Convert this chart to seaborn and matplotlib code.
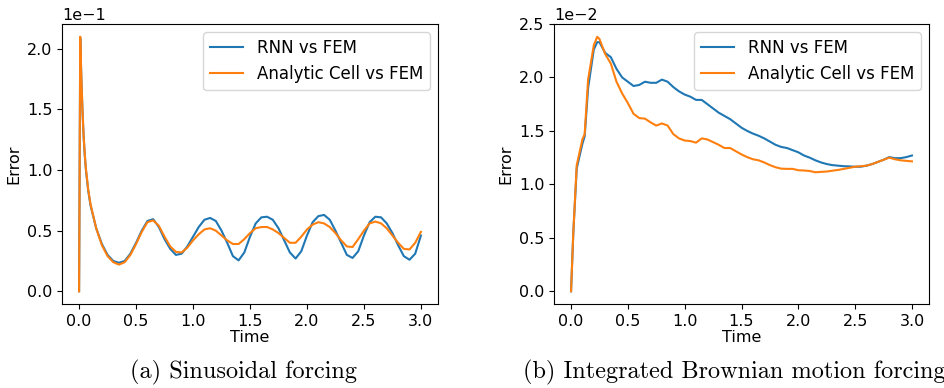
import numpy as np
import pandas as pd
import matplotlib
matplotlib.use("Agg")
import matplotlib.pyplot as plt
import seaborn as sns

# ---------------- data ----------------
# (a) Sinusoidal forcing  (values in units of 1e-1)
t_a = [0.0, 0.01, 0.02, 0.03, 0.04, 0.05, 0.06, 0.08, 0.10, 0.15, 0.20, 0.25, 0.30, 0.35,
       0.40, 0.45, 0.50, 0.55, 0.60, 0.65, 0.70, 0.75, 0.80, 0.85, 0.90, 0.95,
       1.00, 1.05, 1.10, 1.15, 1.20, 1.25, 1.30, 1.35, 1.40, 1.45,
       1.50, 1.55, 1.60, 1.65, 1.70, 1.75, 1.80, 1.85, 1.90, 1.95,
       2.00, 2.05, 2.10, 2.15, 2.20, 2.25, 2.30, 2.35, 2.40, 2.45,
       2.50, 2.55, 2.60, 2.65, 2.70, 2.75, 2.80, 2.85, 2.90, 2.95, 3.00]
rnn_a = [0.0, 2.09, 1.75, 1.48, 1.27, 1.12, 1.00, 0.83, 0.71, 0.52, 0.39, 0.30, 0.25, 0.235,
         0.25, 0.31, 0.40, 0.50, 0.58, 0.595, 0.53, 0.43, 0.35, 0.30, 0.31, 0.37,
         0.45, 0.53, 0.59, 0.605, 0.58, 0.50, 0.40, 0.29, 0.255, 0.32,
         0.45, 0.56, 0.61, 0.615, 0.59, 0.52, 0.42, 0.32, 0.27, 0.33,
         0.46, 0.57, 0.62, 0.63, 0.59, 0.50, 0.40, 0.30, 0.275, 0.33,
         0.46, 0.57, 0.615, 0.61, 0.56, 0.48, 0.38, 0.29, 0.26, 0.31, 0.46]
ana_a = [0.0, 2.10, 1.76, 1.49, 1.28, 1.13, 1.01, 0.84, 0.72, 0.52, 0.38, 0.29, 0.24, 0.22,
         0.24, 0.30, 0.39, 0.49, 0.57, 0.585, 0.54, 0.45, 0.37, 0.325, 0.32, 0.36,
         0.42, 0.47, 0.51, 0.52, 0.50, 0.46, 0.42, 0.39, 0.39, 0.43,
         0.48, 0.52, 0.53, 0.53, 0.51, 0.48, 0.44, 0.40, 0.40, 0.45,
         0.51, 0.55, 0.57, 0.56, 0.53, 0.48, 0.42, 0.37, 0.365, 0.43,
         0.50, 0.56, 0.575, 0.56, 0.52, 0.46, 0.40, 0.35, 0.345, 0.40, 0.49]

# (b) Integrated Brownian motion forcing  (values in units of 1e-2)
t_b = [0.0, 0.02, 0.05, 0.10, 0.12, 0.15, 0.20, 0.23, 0.25, 0.30, 0.35,
       0.40, 0.45, 0.50, 0.55, 0.60, 0.65, 0.70, 0.75, 0.80, 0.85, 0.90, 0.95,
       1.00, 1.05, 1.10, 1.15, 1.20, 1.25, 1.30, 1.35, 1.40, 1.45,
       1.50, 1.55, 1.60, 1.65, 1.70, 1.75, 1.80, 1.85, 1.90, 1.95,
       2.00, 2.05, 2.10, 2.15, 2.20, 2.25, 2.30, 2.35, 2.40, 2.45,
       2.50, 2.55, 2.60, 2.65, 2.70, 2.75, 2.80, 2.85, 2.90, 2.95, 3.00]
rnn_b = [0.0, 0.55, 1.15, 1.38, 1.45, 1.90, 2.26, 2.33, 2.33, 2.23, 2.19,
         2.08, 2.00, 1.96, 1.92, 1.93, 1.96, 1.95, 1.95, 1.98, 1.96, 1.91, 1.87,
         1.84, 1.82, 1.79, 1.79, 1.75, 1.71, 1.67, 1.64, 1.61, 1.57,
         1.53, 1.50, 1.475, 1.455, 1.43, 1.40, 1.37, 1.35, 1.34, 1.32,
         1.30, 1.27, 1.25, 1.225, 1.205, 1.19, 1.18, 1.175, 1.17, 1.168,
         1.165, 1.165, 1.175, 1.19, 1.21, 1.23, 1.255, 1.245, 1.245, 1.255, 1.27]
ana_b = [0.0, 0.55, 1.18, 1.42, 1.47, 1.98, 2.30, 2.38, 2.36, 2.22, 2.13,
         1.96, 1.85, 1.76, 1.66, 1.62, 1.615, 1.58, 1.55, 1.57, 1.55, 1.47, 1.43,
         1.41, 1.405, 1.39, 1.43, 1.42, 1.395, 1.37, 1.34, 1.34, 1.31,
         1.28, 1.255, 1.235, 1.225, 1.205, 1.18, 1.16, 1.147, 1.145, 1.145,
         1.132, 1.13, 1.125, 1.113, 1.117, 1.12, 1.128, 1.135, 1.145, 1.155,
         1.165, 1.17, 1.175, 1.19, 1.21, 1.23, 1.25, 1.235, 1.225, 1.22, 1.215]

series_labels = ["RNN vs FEM", "Analytic Cell vs FEM"]
captions = ["(a) Sinusoidal forcing", "(b) Integrated Brownian motion forcing"]
scales = [1e-1, 1e-2]

# ---------------- plotting ----------------
W, H = 944, 388
fig = plt.figure(figsize=(W / 100, H / 100), dpi=100)
ax_a = fig.add_axes([62 / W, (H - 304) / H, 376 / W, 280 / H])
ax_b = fig.add_axes([554 / W, (H - 304) / H, 375 / W, 280 / H])

FS = 11.5
panels = [(ax_a, t_a, rnn_a, ana_a, scales[0]), (ax_b, t_b, rnn_b, ana_b, scales[1])]
for ax, t, r, a, s in panels:
    df = pd.DataFrame({"Time": t, "r": np.array(r) * s, "a": np.array(a) * s})
    sns.lineplot(data=df, x="Time", y="r", ax=ax, color="#1f77b4", linewidth=1.5,
                 label=series_labels[0])
    sns.lineplot(data=df, x="Time", y="a", ax=ax, color="#ff7f0e", linewidth=1.5,
                 label=series_labels[1])
    ax.ticklabel_format(axis="y", style="sci", scilimits=(0, 0))
    ax.set_xticks([0.0, 0.5, 1.0, 1.5, 2.0, 2.5, 3.0])
    ax.set_xlabel("Time", fontsize=FS, labelpad=1)
    ax.set_ylabel("Error", fontsize=FS)
    ax.tick_params(labelsize=FS)
    ax.yaxis.get_offset_text().set_fontsize(FS)
    ax.legend(loc="upper right", fontsize=12)

ax_b.set_yticks([0.0, 0.005, 0.010, 0.015, 0.020, 0.025])

fig.text(244 / W, 1 - 372 / H, captions[0], fontsize=17.5, family="cmr10",
         ha="center", va="center")
fig.text(523 / W, 1 - 372 / H, captions[1], fontsize=17.5, family="cmr10",
         ha="left", va="center")

fig.savefig("out.png", dpi=100)
